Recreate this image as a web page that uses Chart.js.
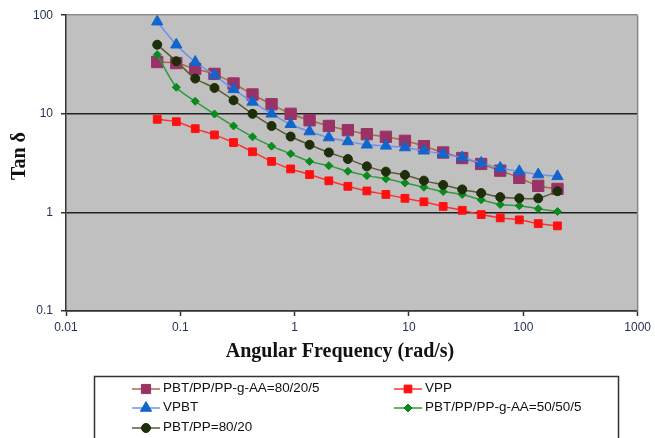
<!DOCTYPE html>
<html>
<head>
<meta charset="utf-8">
<script src="https://cdn.jsdelivr.net/npm/chart.js@4"></script>
<style>
  body { margin: 0; background: #fff; }
  canvas { display: block; }
</style>
</head>
<body>
<canvas id="tanChart" width="655" height="438"></canvas>
<script>
// angular frequency (rad/s)
const freq = [0.0628, 0.0922, 0.135, 0.199, 0.292, 0.428, 0.628, 0.922, 1.35, 1.99, 2.92,
  4.28, 6.28, 9.22, 13.5, 19.9, 29.2, 42.8, 62.8, 92.2, 135, 199];

const labels = ["PBT/PP/PP-g-AA=80/20/5", "VPP", "VPBT", "PBT/PP/PP-g-AA=50/50/5", "PBT/PP=80/20"];

const blend80205 = [33.5, 32.7, 28.5, 25.4, 20.3, 15.7, 12.5, 10.0, 8.6, 7.53, 6.82,
  6.21, 5.84, 5.32, 4.70, 4.05, 3.56, 3.10, 2.65, 2.24, 1.86, 1.73];
const vpp = [8.8, 8.32, 7.07, 6.11, 5.11, 4.12, 3.29, 2.76, 2.42, 2.09, 1.84,
  1.65, 1.52, 1.39, 1.28, 1.15, 1.05, 0.95, 0.88, 0.84, 0.77, 0.73];
const vpbt = [86, 50.2, 33.5, 24.6, 17.7, 13.2, 10.0, 7.84, 6.61, 5.74, 5.24,
  4.85, 4.73, 4.55, 4.22, 3.91, 3.61, 3.17, 2.82, 2.61, 2.42, 2.32];
const blend50505 = [39.8, 18.6, 13.4, 9.95, 7.53, 5.84, 4.70, 3.93, 3.29, 2.98, 2.61,
  2.36, 2.19, 1.99, 1.80, 1.63, 1.52, 1.34, 1.20, 1.17, 1.09, 1.02];
const blend8020 = [50.2, 34.1, 22.8, 18.3, 13.7, 10.0, 7.53, 5.88, 4.85, 4.05, 3.48,
  2.93, 2.59, 2.40, 2.10, 1.90, 1.71, 1.57, 1.43, 1.39, 1.39, 1.64];

const yTicks = [0.1, 1, 10, 100];
const xTicks = [0.01, 0.1, 1, 10, 100, 1000];

function pts(ys) {
  return ys.map((y, i) => ({ x: freq[i], y: y }));
}

const styles = [
  { line: "#a86a45", fill: "#993366", shape: "rect", r: 8, order: 5 },
  { line: "#ff3030", fill: "#ff1010", shape: "rect", r: 5.5, order: 4 },
  { line: "#6f8ff0", fill: "#1166cc", shape: "triangle", r: 6.5, order: 3 },
  { line: "#2e9a40", fill: "#0b8a1f", shape: "rectRot", r: 4, order: 2 },
  { line: "#5c5a35", fill: "#1e2e0a", shape: "circle", r: 4.5, order: 1 },
];
const series = [blend80205, vpp, vpbt, blend50505, blend8020];

const datasets = series.map((s, i) => ({
  label: labels[i],
  data: pts(s),
  borderColor: styles[i].line,
  borderWidth: 1.5,
  backgroundColor: styles[i].fill,
  pointBackgroundColor: styles[i].fill,
  pointBorderColor: styles[i].fill,
  pointBorderWidth: 1,
  pointStyle: styles[i].shape,
  pointRadius: styles[i].r,
  tension: 0.3,
  order: styles[i].order,
}));

const tickFont = { family: "'Liberation Sans', Arial, sans-serif", size: 12 };

const decor = {
  id: "decor",
  beforeDraw(chart) {
    const a = chart.chartArea, ctx = chart.ctx;
    ctx.save();
    ctx.fillStyle = "#c0c0c0";
    ctx.fillRect(a.left, a.top, a.right - a.left, a.bottom - a.top);
    ctx.restore();
  },
  afterDraw(chart) {
    const a = chart.chartArea, ctx = chart.ctx;
    ctx.save();
    // right edge of plot
    ctx.strokeStyle = "#888";
    ctx.lineWidth = 1.5;
    ctx.beginPath();
    ctx.moveTo(a.right, a.top);
    ctx.lineTo(a.right, a.bottom);
    ctx.stroke();

    // axis titles
    ctx.fillStyle = "#111";
    ctx.font = "bold 20px 'Liberation Serif', 'Times New Roman', serif";
    ctx.textAlign = "center";
    ctx.textBaseline = "alphabetic";
    ctx.fillText("Angular Frequency (rad/s)", 340, 357);
    ctx.save();
    ctx.translate(25, 156);
    ctx.rotate(-Math.PI / 2);
    ctx.fillText("Tan δ", 0, 0);
    ctx.restore();

    // legend
    ctx.fillStyle = "#fff";
    ctx.fillRect(94.5, 376.5, 524, 70);
    ctx.strokeStyle = "#333";
    ctx.lineWidth = 1.5;
    ctx.strokeRect(94.5, 376.5, 524, 70);
    const spots = [[132, 389], [394, 389], [132, 408], [394, 408], [132, 428]];
    ctx.font = "12px 'Liberation Sans', Arial, sans-serif";
    ctx.textAlign = "left";
    ctx.textBaseline = "middle";
    chart.data.datasets.forEach((d, i) => {
      const [x, y] = spots[i];
      ctx.strokeStyle = d.borderColor;
      ctx.lineWidth = 1.5;
      ctx.beginPath();
      ctx.moveTo(x, y);
      ctx.lineTo(x + 28, y);
      ctx.stroke();
      ctx.fillStyle = d.pointBackgroundColor;
      ctx.strokeStyle = d.pointBorderColor;
      ctx.lineWidth = 1;
      Chart.helpers.drawPoint(ctx, { pointStyle: d.pointStyle, radius: Math.min(d.pointRadius, 6.5), rotation: 0, borderWidth: 1 }, x + 14, y);
      ctx.save();
      ctx.translate(x + 31, y);
      ctx.scale(1.12, 1);
      ctx.fillStyle = "#111";
      ctx.fillText(d.label, 0, 0);
      ctx.restore();
    });
    ctx.restore();
  },
};

new Chart(document.getElementById("tanChart").getContext("2d"), {
  type: "line",
  data: { datasets: datasets },
  options: {
    responsive: false,
    animation: false,
    devicePixelRatio: 1,
    layout: { padding: { left: 0, right: 17, top: 14, bottom: 0 } },
    plugins: { legend: { display: false }, tooltip: { enabled: false } },
    scales: {
      x: {
        type: "logarithmic",
        min: 0.01,
        max: 1000,
        afterBuildTicks: (s) => { s.ticks = xTicks.map((v) => ({ value: v })); },
        afterFit: (s) => { s.height = 127; },
        ticks: {
          callback: (v) => String(v),
          color: "#1f2f4f",
          font: tickFont,
          padding: 4,
          maxRotation: 0,
        },
        grid: { drawOnChartArea: false, drawTicks: true, tickLength: 5, tickColor: "#333", tickWidth: 1.5 },
        border: { color: "#333", width: 1.5 },
      },
      y: {
        type: "logarithmic",
        min: 0.1,
        max: 100,
        afterBuildTicks: (s) => { s.ticks = yTicks.map((v) => ({ value: v })); },
        afterFit: (s) => { s.width = 66; },
        ticks: {
          callback: (v) => String(v),
          color: "#1f2f4f",
          font: tickFont,
          padding: 8,
        },
        grid: {
          color: (c) => (c.tick && c.tick.value === 100 ? "#888" : "#222"),
          lineWidth: 1.5,
          tickLength: 5,
          tickColor: "#333",
          tickWidth: 1.5,
        },
        border: { color: "#333", width: 1.5 },
      },
    },
  },
  plugins: [decor],
});
</script>
</body>
</html>
